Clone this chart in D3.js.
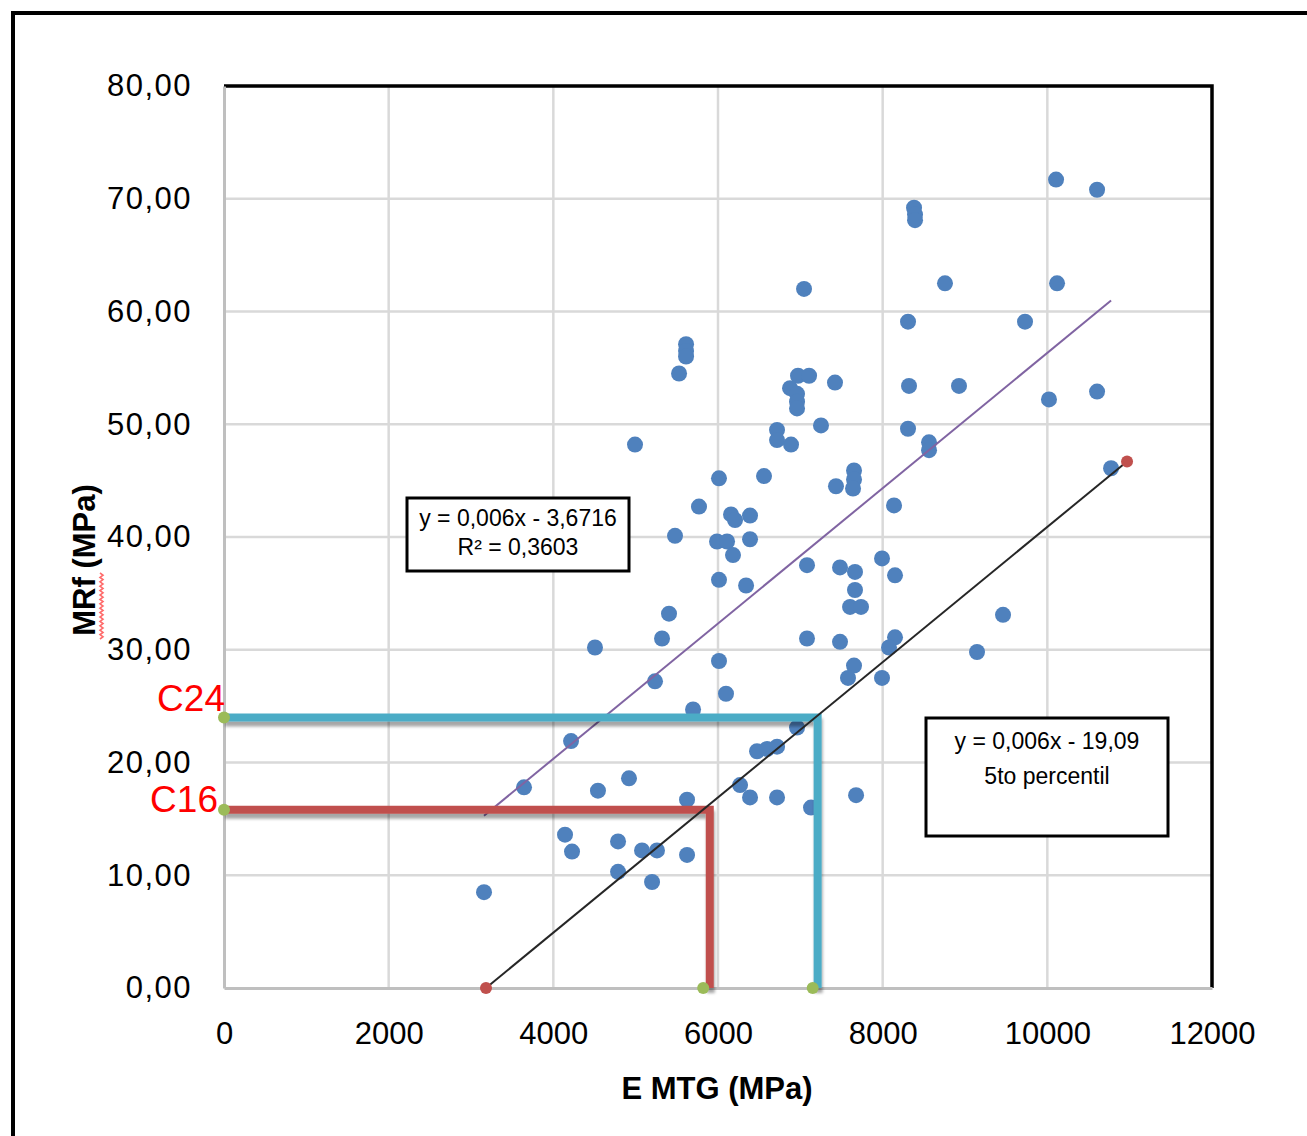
<!DOCTYPE html>
<html lang="es">
<head>
  <meta charset="UTF-8">
  <title>MRf vs E MTG</title>
  <script src="https://cdn.jsdelivr.net/npm/d3@7"></script>
  <style>
    html, body { margin: 0; padding: 0; background: #fff; }
    svg { display: block; font-family: "Liberation Sans", Arial, sans-serif; }
  </style>
</head>
<body>
  <svg id="chart" width="1307" height="1136"></svg>
  <script>
    // E MTG (MPa) / MRf (MPa)
    const eMtg = [10106, 10604, 8381, 8393, 8393, 8757, 10118, 7045,
      8308, 9729, 5612, 5612, 5612, 5527, 6972, 7106, 6875, 6960, 6960, 6960,
      7421, 8320, 8927, 10604, 10020,
      7251, 8308, 6717, 6717, 6887, 4992, 8563, 8563, 10774, 6559, 6012,
      7652, 7652, 7640, 7433,
      5769, 8138, 6158, 6207, 6389, 5478, 6389, 5988, 6110, 6182, 7081, 7482,
      7664, 7992, 8150, 6012, 6341, 7664,
      7604, 7737, 5405, 9462, 5320, 7081, 7482, 8150, 8077, 4506, 9146, 6012,
      7652, 7579, 7992, 5235, 6097,
      5697, 6960, 4215, 6474, 6596, 6717, 6268, 4919, 3644, 4542, 7677, 6389,
      6717, 5624,
      7130, 4142, 4786, 4227, 5077, 5259, 5624, 4786, 5199, 3158];
    const mrf = [71.7, 70.8, 69.2, 68.6, 68.1, 62.5, 62.5, 62.0,
      59.1, 59.1, 57.1, 56.5, 56.0, 54.5, 54.3, 54.3, 53.2, 52.7, 52.0, 51.4,
      53.7, 53.4, 53.4, 52.9, 52.2,
      49.9, 49.6, 49.5, 48.6, 48.2, 48.2, 48.4, 47.7, 46.1, 45.4, 45.2,
      45.9, 45.1, 44.3, 44.5,
      42.7, 42.8, 42.0, 41.5, 41.9, 40.1, 39.8, 39.6, 39.6, 38.4, 37.5, 37.3,
      36.9, 38.1, 36.6, 36.2, 35.7, 35.3,
      33.8, 33.8, 33.2, 33.1, 31.0, 31.0, 30.7, 31.1, 30.2, 30.2, 29.8, 29.0,
      28.6, 27.5, 27.5, 27.2, 26.1,
      24.7, 23.1, 21.9, 21.0, 21.2, 21.4, 18.0, 18.6, 17.8, 17.5, 17.1, 16.9,
      16.9, 16.7,
      16.0, 13.6, 13.0, 12.1, 12.2, 12.2, 11.8, 10.3, 9.4, 8.5];

    // linear fit and 5th percentile line: y = a*x + b
    const fitSlope = 0.006, fitIntercept = -3.6716;
    const p5Slope = 0.006, p5Intercept = -19.09;
    const p5Ends = [[3182, 0], [10968, 46.7]];

    // class lines C24 / C16 (label offset: dx from axis, dy from line)
    const classes = [
      {name: 'C24', mrf: 24, e: 7210, eMark: 7150, color: '#4bacc6', dx: 1, dy: -6},
      {name: 'C16', mrf: 15.8, e: 5900, eMark: 5820, color: '#c0504d', dx: -6, dy: 2}
    ];

    const xTicks = [0, 2000, 4000, 6000, 8000, 10000, 12000];
    const yTicks = [0, 10, 20, 30, 40, 50, 60, 70, 80];

    const svg = d3.select('#chart');
    const x = d3.scaleLinear().domain([0, 12000]).range([224, 1212]);
    const y = d3.scaleLinear().domain([0, 80]).range([988, 86]);
    const es = d3.formatLocale({decimal: ',', thousands: '.', grouping: [3], currency: ['', '€']});
    const fmtY = es.format('.2f');

    const defs = svg.append('defs');
    defs.append('filter').attr('id', 'shadow')
      .attr('x', '-5%').attr('y', '-5%').attr('width', '115%').attr('height', '115%')
      .append('feDropShadow')
      .attr('dx', 1).attr('dy', 5).attr('stdDeviation', 1.5)
      .attr('flood-color', '#000').attr('flood-opacity', 0.35);

    // outer frame
    svg.append('path').attr('d', 'M13,1136V13H1307')
      .attr('fill', 'none').attr('stroke', '#000').attr('stroke-width', 4);

    // grid
    svg.append('g').selectAll('line').data(xTicks.slice(1, -1)).join('line')
      .attr('x1', d => x(d)).attr('x2', d => x(d))
      .attr('y1', y(80)).attr('y2', y(0))
      .attr('stroke', '#d9d9d9').attr('stroke-width', 2.5);
    svg.append('g').selectAll('line').data(yTicks.slice(1, -1)).join('line')
      .attr('x1', x(0)).attr('x2', x(12000))
      .attr('y1', d => y(d)).attr('y2', d => y(d))
      .attr('stroke', '#d9d9d9').attr('stroke-width', 2.5);

    // plot border (top / right black)
    svg.append('path')
      .attr('d', `M${x(0)},${y(80)}H${x(12000)}V${y(0)}`)
      .attr('fill', 'none').attr('stroke', '#000').attr('stroke-width', 3.5);

    // axes
    const yAxis = svg.append('g').attr('transform', `translate(${x(0)},0)`)
      .call(d3.axisLeft(y).tickValues(yTicks).tickSize(0).tickPadding(32).tickFormat(fmtY));
    const xAxis = svg.append('g').attr('transform', `translate(0,${y(0)})`)
      .call(d3.axisBottom(x).tickValues(xTicks).tickSize(0).tickPadding(34).tickFormat(d => String(d)));
    [yAxis, xAxis].forEach(a => {
      a.select('.domain').attr('stroke', '#bfbfbf').attr('stroke-width', 3);
      a.selectAll('text').attr('font-size', 31).attr('fill', '#000')
        .attr('font-family', '"Liberation Sans", Arial, sans-serif');
    });
    yAxis.selectAll('text').attr('letter-spacing', 1.5);

    // axis titles
    svg.append('text').attr('x', 717).attr('y', 1099).attr('text-anchor', 'middle')
      .attr('font-size', 31).attr('font-weight', 'bold').text('E MTG (MPa)');
    const yt = svg.append('g').attr('transform', 'translate(95,560) rotate(-90)');
    yt.append('text').attr('text-anchor', 'middle').attr('font-size', 31)
      .attr('font-weight', 'bold').text('MRf (MPa)');
    // spell-check squiggle under "MRf"
    const sq = d3.range(0, 31).map(i => [-79 + i * 2.2, 5 + (i % 2 ? 3 : 0)]);
    yt.append('path').attr('d', d3.line()(sq)).attr('fill', 'none')
      .attr('stroke', '#ff6b6b').attr('stroke-width', 1.6);

    // scatter
    const pts = eMtg.map((e, i) => [e, mrf[i]]);
    svg.append('g').selectAll('circle').data(pts).join('circle')
      .attr('cx', d => x(d[0])).attr('cy', d => y(d[1])).attr('r', 8)
      .attr('fill', '#4f81bd');

    // trendline
    const ext = d3.extent(eMtg);
    svg.append('line')
      .attr('x1', x(ext[0])).attr('y1', y(fitSlope * ext[0] + fitIntercept))
      .attr('x2', x(ext[1])).attr('y2', y(fitSlope * ext[1] + fitIntercept))
      .attr('stroke', '#8064a2').attr('stroke-width', 2);

    // class lines
    classes.forEach(c => {
      svg.append('path')
        .attr('d', d3.line().x(d => x(d[0])).y(d => y(d[1]))([[0, c.mrf], [c.e, c.mrf], [c.e, 0]]))
        .attr('fill', 'none').attr('stroke', c.color).attr('stroke-width', 8)
        .attr('filter', 'url(#shadow)');
      svg.selectAll(null).data([[0, c.mrf], [c.eMark, 0]]).join('circle')
        .attr('cx', d => x(d[0])).attr('cy', d => y(d[1])).attr('r', 6)
        .attr('fill', '#9bbb59');
      svg.append('text').attr('x', x(0) + c.dx).attr('y', y(c.mrf) + c.dy)
        .attr('text-anchor', 'end').attr('font-size', 37).attr('fill', '#ff0000')
        .text(c.name);
    });

    // 5th percentile line
    svg.append('line')
      .attr('x1', x(p5Ends[0][0])).attr('y1', y(p5Slope * p5Ends[0][0] + p5Intercept))
      .attr('x2', x(p5Ends[1][0])).attr('y2', y(p5Ends[1][1]))
      .attr('stroke', '#262626').attr('stroke-width', 2);
    svg.selectAll(null).data(p5Ends).join('circle')
      .attr('cx', d => x(d[0])).attr('cy', d => y(d[1])).attr('r', 6)
      .attr('fill', '#c0504d');

    // text boxes
    function box(x0, y0, w, h, lines) {
      svg.append('rect').attr('x', x0).attr('y', y0).attr('width', w).attr('height', h)
        .attr('fill', '#fff').attr('stroke', '#000').attr('stroke-width', 3);
      lines.forEach(l => {
        svg.append('text').attr('x', x0 + w / 2).attr('y', l.y)
          .attr('text-anchor', 'middle').attr('font-size', 23).text(l.t);
      });
    }
    box(407, 498, 222, 73, [{t: 'y = 0,006x - 3,6716', y: 526}, {t: 'R² = 0,3603', y: 555}]);
    box(926, 718, 242, 118, [{t: 'y = 0,006x - 19,09', y: 749}, {t: '5to percentil', y: 784}]);
  </script>
</body>
</html>
